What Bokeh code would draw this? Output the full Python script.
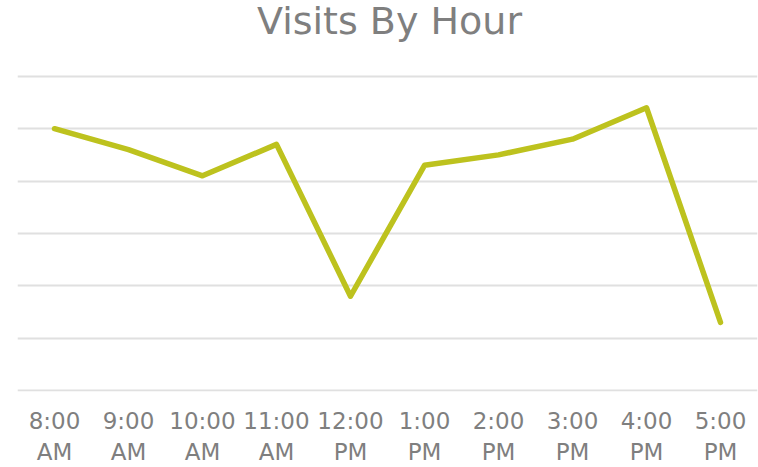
from bokeh.plotting import figure
from bokeh.models import FactorRange, Range1d, FixedTicker, Label
from bokeh.embed import file_html
from bokeh.resources import INLINE

title_text = "Visits By Hour"
hours = ["8:00\nAM", "9:00\nAM", "10:00\nAM", "11:00\nAM", "12:00\nPM",
         "1:00\nPM", "2:00\nPM", "3:00\nPM", "4:00\nPM", "5:00\nPM"]
visits = [50, 46, 41, 47, 18, 43, 45, 48, 54, 13]
grid_ticks = [0, 10, 20, 30, 40, 50, 60]

p = figure(width=758, height=467, output_backend="svg", toolbar_location=None,
           x_range=FactorRange(factors=hours, range_padding=0),
           y_range=Range1d(-0.19, 74.48),
           min_border_left=17, min_border_right=1, min_border_top=0, min_border_bottom=75)

p.line(hours, visits, line_color="#bdc21e", line_width=5.5, line_join="round", line_cap="round")

title = Label(x=372, y=371, x_units="screen", y_units="screen", text=title_text,
              text_align="center", text_baseline="alphabetic",
              text_font="DejaVu Sans", text_font_size="38px", text_color="#7f7f7f")
p.add_layout(title)

p.outline_line_color = None
p.xgrid.grid_line_color = None
p.ygrid.grid_line_color = "#e0e0e0"
p.ygrid.grid_line_width = 2
p.yaxis.ticker = FixedTicker(ticks=grid_ticks)
p.yaxis.visible = False

ax = p.xaxis[0]
ax.axis_line_color = None
ax.major_tick_line_color = None
ax.minor_tick_line_color = None
ax.major_label_text_font = "DejaVu Sans"
ax.major_label_text_font_size = "23px"
ax.major_label_text_color = "#7f7f7f"
ax.major_label_standoff = 10

open("out.html", "w").write(file_html(p, INLINE))
